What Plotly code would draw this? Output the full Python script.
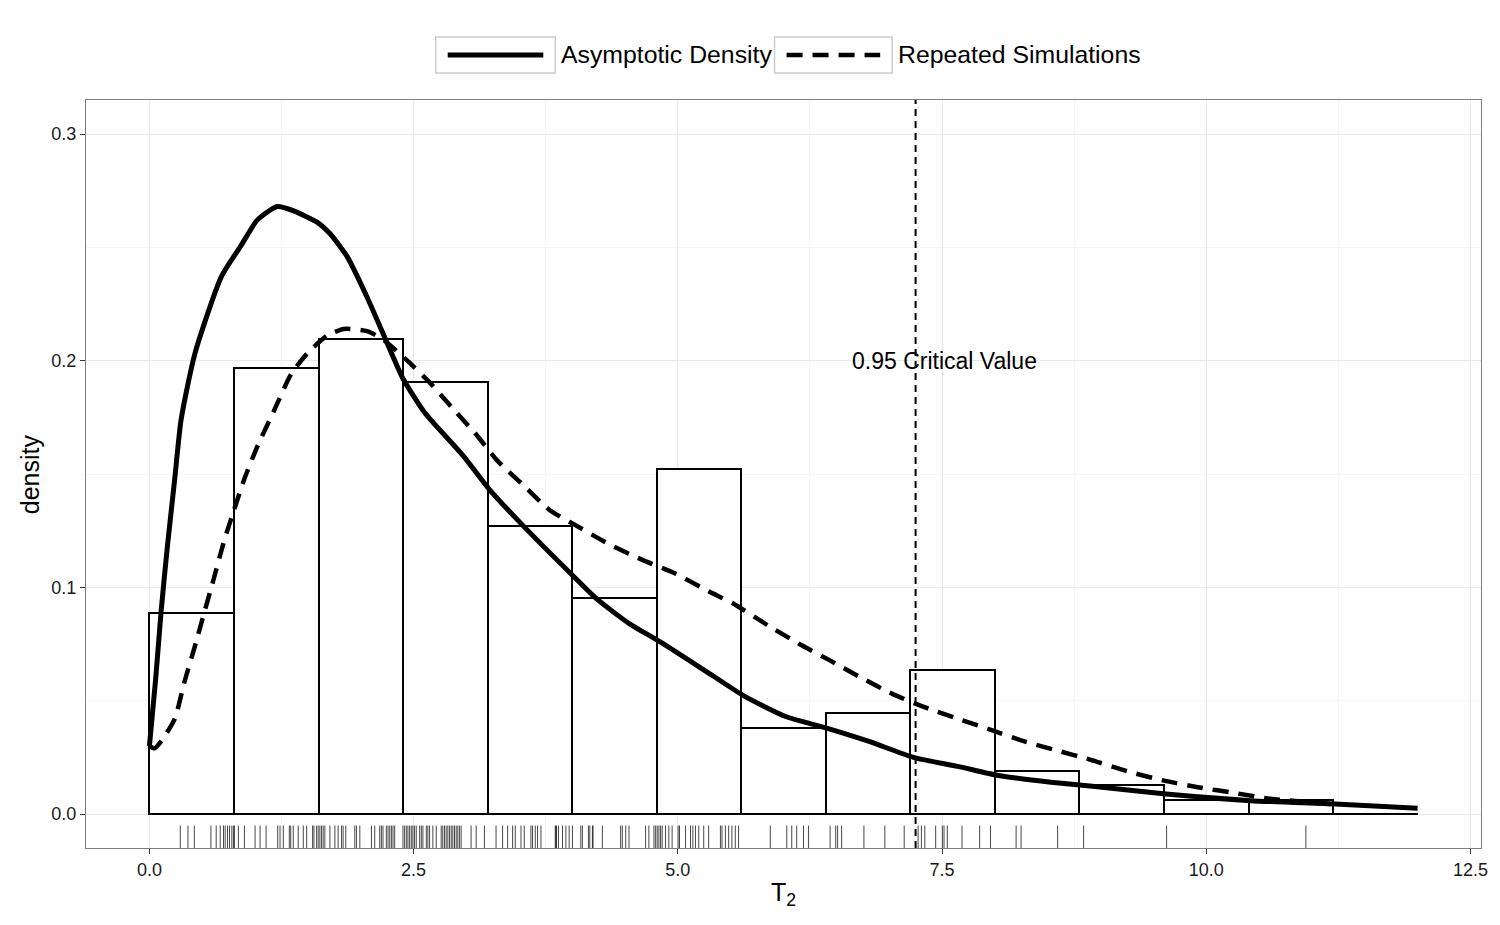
import plotly.graph_objects as go

# ---------------- data ----------------
bin_left = [0.0, 0.8, 1.6, 2.4, 3.2, 4.0, 4.8, 5.6, 6.4, 7.2, 8.0, 8.8, 9.6, 10.4, 11.2]
bin_width = 0.8
hist_density = [0.0888, 0.1967, 0.2094, 0.1904, 0.1269, 0.0952, 0.1523, 0.0381,
                0.0444, 0.0635, 0.0190, 0.0127, 0.0063, 0.0063, 0.0]

asym_x = [0.0, 0.06, 0.11, 0.17, 0.24, 0.30, 0.43, 0.68, 0.87, 1.02, 1.21, 1.37, 1.59,
          1.71, 1.87, 2.06, 2.22, 2.40, 2.59, 2.66, 2.97, 3.22, 3.54, 4.01, 4.23, 4.54,
          4.83, 5.33, 5.63, 6.02, 6.40, 6.81, 7.23, 7.65, 8.03, 8.53, 8.97, 9.62, 10.42,
          11.22, 12.0]
asym_y = [0.030, 0.060, 0.089, 0.118, 0.148, 0.174, 0.203, 0.237, 0.251, 0.262, 0.268,
          0.266, 0.261, 0.256, 0.246, 0.228, 0.211, 0.192, 0.178, 0.174, 0.158, 0.143,
          0.127, 0.105, 0.095, 0.084, 0.076, 0.061, 0.052, 0.043, 0.038, 0.032, 0.025,
          0.021, 0.017, 0.014, 0.012, 0.0088, 0.0059, 0.0044, 0.0025]

sim_x = [0.0, 0.05, 0.11, 0.24, 0.33, 0.43, 0.52, 0.61, 0.71, 0.80, 0.90, 1.02, 1.18,
         1.34, 1.49, 1.68, 1.84, 2.06, 2.22, 2.44, 2.66, 2.85, 3.10, 3.29, 3.54, 3.79,
         4.01, 4.35, 4.67, 4.98, 5.30, 5.52, 5.86, 6.15, 6.43, 6.74, 7.03, 7.34, 7.65,
         7.97, 8.28, 8.59, 8.90, 9.28, 9.60, 9.92, 10.29, 10.58, 11.17]
sim_y = [0.030, 0.029, 0.032, 0.042, 0.058, 0.074, 0.089, 0.104, 0.121, 0.134, 0.148,
         0.162, 0.178, 0.194, 0.203, 0.211, 0.214, 0.213, 0.209, 0.200, 0.190, 0.180,
         0.167, 0.156, 0.145, 0.134, 0.128, 0.119, 0.112, 0.106, 0.098, 0.093, 0.083,
         0.075, 0.068, 0.060, 0.053, 0.047, 0.042, 0.037, 0.032, 0.028, 0.024, 0.0185,
         0.0147, 0.0118, 0.0091, 0.0069, 0.0044]

rug_values = [0.292, 0.365, 0.425, 0.582, 0.632, 0.670, 0.701, 0.717, 0.739, 0.758, 0.780,
              0.795, 0.805, 0.842, 0.899, 1.000, 1.047, 1.104, 1.214, 1.236, 1.267, 1.324,
              1.337, 1.361, 1.408, 1.456, 1.488, 1.544, 1.557, 1.582, 1.597, 1.613, 1.629,
              1.644, 1.660, 1.708, 1.755, 1.786, 1.818, 1.833, 1.858, 1.943, 1.959, 1.991,
              2.101, 2.132, 2.179, 2.195, 2.210, 2.242, 2.258, 2.274, 2.290, 2.305, 2.321,
              2.399, 2.415, 2.431, 2.446, 2.462, 2.478, 2.493, 2.509, 2.525, 2.557, 2.573,
              2.588, 2.620, 2.635, 2.651, 2.682, 2.714, 2.761, 2.776, 2.792, 2.808, 2.824,
              2.840, 2.856, 2.871, 2.887, 2.903, 2.918, 2.934, 2.950, 3.044, 3.092, 3.170,
              3.280, 3.342, 3.390, 3.437, 3.462, 3.516, 3.547, 3.610, 3.625, 3.651, 3.673,
              3.705, 3.840, 3.846, 3.852, 3.871, 3.909, 3.941, 3.972, 4.003, 4.082, 4.097,
              4.154, 4.167, 4.192, 4.198, 4.286, 4.459, 4.475, 4.507, 4.538, 4.695, 4.726,
              4.774, 4.790, 4.805, 4.821, 4.837, 4.852, 4.884, 4.915, 4.946, 5.003, 5.016,
              5.073, 5.120, 5.142, 5.167, 5.198, 5.245, 5.292, 5.403, 5.418, 5.450, 5.481,
              5.512, 5.544, 5.575, 5.875, 6.031, 6.078, 6.125, 6.189, 6.236, 6.441, 6.494,
              6.512, 6.550, 6.761, 6.959, 7.142, 7.274, 7.305, 7.337, 7.440, 7.503, 7.519,
              7.550, 7.689, 7.856, 7.959, 8.201, 8.248, 8.594, 8.840, 9.625, 10.943]

critical_value = 7.25
critical_label = "0.95 Critical Value"
critical_label_pos = (7.52, 0.20)

x_ticks = [0.0, 2.5, 5.0, 7.5, 10.0, 12.5]
y_ticks = [0.0, 0.1, 0.2, 0.3]
x_range = [-0.6, 12.6]
y_range = [-0.015, 0.315]

series_names = ["Asymptotic Density", "Repeated Simulations"]

FONT = "Liberation Sans, Arial, Helvetica, sans-serif"
CURVE_DASH = "16px,10px"

fig = go.Figure()

# histogram (pre-binned densities)
fig.add_trace(go.Bar(
    x=[b + bin_width / 2 for b in bin_left], y=hist_density, width=bin_width,
    marker=dict(color="white", line=dict(color="black", width=2)),
    showlegend=False, hoverinfo="skip"))

# density curves
fig.add_trace(go.Scatter(x=asym_x, y=asym_y, mode="lines", name=series_names[0],
                         line=dict(color="black", width=5, shape="spline", smoothing=0.6),
                         showlegend=False))
fig.add_trace(go.Scatter(x=sim_x, y=sim_y, mode="lines", name=series_names[1],
                         line=dict(color="black", width=4.5, dash=CURVE_DASH,
                                   shape="spline", smoothing=0.6),
                         showlegend=False))

# critical value vertical line
fig.add_trace(go.Scatter(x=[critical_value, critical_value], y=y_range, mode="lines",
                         line=dict(color="black", width=2, dash="7px,5px"),
                         showlegend=False, hoverinfo="skip"))

# rug
rug_top = y_range[0] + 0.03 * (y_range[1] - y_range[0])
rx, ry = [], []
for v in rug_values:
    rx += [v, v, None]
    ry += [y_range[0], rug_top, None]
fig.add_trace(go.Scatter(x=rx, y=ry, mode="lines",
                         line=dict(color="rgba(0,0,0,0.72)", width=1),
                         showlegend=False, hoverinfo="skip"))

annotations = [
    dict(x=critical_label_pos[0], y=critical_label_pos[1], xref="x", yref="y",
         text=critical_label, showarrow=False, font=dict(size=23, color="black", family=FONT),
         xanchor="center", yanchor="middle"),
    dict(x=0.5, y=-0.062, xref="paper", yref="paper", text="T<sub>2</sub>",
         showarrow=False, font=dict(size=25, color="black", family=FONT),
         xanchor="center", yanchor="middle"),
    dict(x=-0.04, y=0.5, xref="paper", yref="paper", text="density", textangle=-90,
         showarrow=False, font=dict(size=25, color="black", family=FONT),
         xanchor="center", yanchor="middle"),
]

# manual legend (boxed keys)
legend_shapes = []
key_boxes = [(0.2507, 0.3364), (0.4936, 0.5779)]
key_dash = ["solid", CURVE_DASH]
key_width = [5, 4.5]
for i, (bx0, bx1) in enumerate(key_boxes):
    legend_shapes.append(dict(type="rect", xref="paper", yref="paper",
                              x0=bx0, x1=bx1, y0=1.0361, y1=1.0842,
                              line=dict(color="#cccccc", width=1.5), fillcolor="white"))
    legend_shapes.append(dict(type="line", xref="paper", yref="paper",
                              x0=bx0 + 0.0086, x1=bx1 - 0.0086, y0=1.0602, y1=1.0602,
                              line=dict(color="black", width=key_width[i], dash=key_dash[i])))
    annotations.append(dict(x=bx1 + 0.0029, y=1.0602, xref="paper", yref="paper",
                            text=series_names[i], showarrow=False,
                            font=dict(size=24.8, color="black", family=FONT),
                            xanchor="left", yanchor="middle"))

axis_common = dict(showline=True, mirror=True, linecolor="#7f7f7f", linewidth=1,
                   ticks="outside", ticklen=5, tickwidth=1, tickcolor="#333333",
                   showgrid=True, gridcolor="#e8e8e8", gridwidth=1, zeroline=False,
                   tickfont=dict(size=18, color="#1a1a1a", family=FONT))

fig.update_layout(
    width=1500, height=925,
    margin=dict(l=86, r=14, t=100, b=77),
    paper_bgcolor="white", plot_bgcolor="white",
    font=dict(family=FONT),
    xaxis=dict(range=x_range, tickvals=x_ticks, ticktext=[f"{t:.1f}" for t in x_ticks],
               minor=dict(tickvals=[1.25, 3.75, 6.25, 8.75, 11.25], showgrid=True,
                          gridcolor="#f5f5f5", gridwidth=1, ticks=""),
               **axis_common),
    yaxis=dict(range=y_range, tickvals=y_ticks, ticktext=[f"{t:.1f}" for t in y_ticks],
               minor=dict(tickvals=[0.05, 0.15, 0.25], showgrid=True,
                          gridcolor="#f5f5f5", gridwidth=1, ticks=""),
               **axis_common),
    annotations=annotations,
    shapes=legend_shapes,
    showlegend=False,
    bargap=0,
)

fig.write_html("out.html")
